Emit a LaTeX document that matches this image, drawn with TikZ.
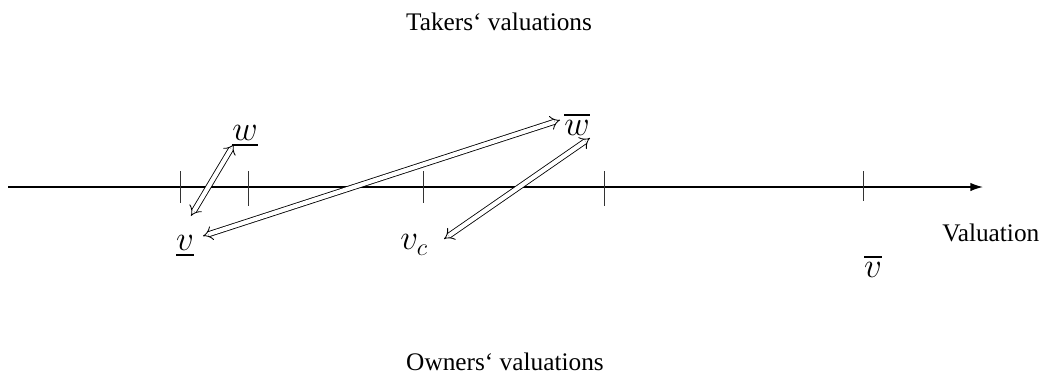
\documentclass[tikz,border=0pt]{standalone}
\usepackage{amsmath}
\usepackage{fontspec}
\setmainfont{Liberation Serif}
\usetikzlibrary{arrows.meta}
\tikzset{
  axis/.style={line width=1pt, black, -{Latex[length=9pt,width=6pt]}},
  tick/.style={line width=0.6pt, black!80},
  move/.style={double, double distance=3pt, line width=0.6pt, {Implies[length=5pt,width=10pt]}-{Implies[length=5pt,width=10pt]}},
  lab/.style={font=\fontsize{23}{27}\selectfont, inner sep=0pt},
  caption/.style={font=\fontsize{18}{22}\selectfont, inner sep=0pt},
}

\begin{document}
\begin{tikzpicture}[x=0.025cm, y=-0.025cm]
 \useasboundingbox (0,0) rectangle (1053,378);
 % valuation axis
 \coordinate (ax0) at (8,187);
 \coordinate (ax1) at (983,187);
 \draw[axis] (ax0) -- (ax1);
 \foreach \t/\h in {180/0, 248/3, 423/0, 604/3, 863/-2}
  \draw[tick] (\t,171) -- (\t,203+\h);
 % labels
 \node[lab] (wlo) at (245,136) {$\underline{w}$};
 \node[lab] (vlo) at (185,246) {$\underline{v}$};
 \node[lab] (vc)  at (414,245) {$v_c$};
 \node[lab] (whi) at (577,124) {$\overline{w}$};
 \node[lab] (vhi) at (873,266) {$\overline{v}$};
 \node[caption, anchor=west] (val) at (942,233) {Valuation};
 \node[caption] (takers) at (499,22) {Takers‘ valuations};
 \node[caption] (owners) at (505,362) {Owners‘ valuations};
 % matched pairs
 \coordinate (a1) at (191,216);
 \coordinate (a2) at (234,144);
 \coordinate (b1) at (203,236);
 \coordinate (b2) at (560,120);
 \coordinate (c1) at (444,239);
 \coordinate (c2) at (590,138);
 \draw[move] (a1) -- (a2);
 \draw[move] (b1) -- (b2);
 \draw[move] (c1) -- (c2);
\end{tikzpicture}
\end{document}
